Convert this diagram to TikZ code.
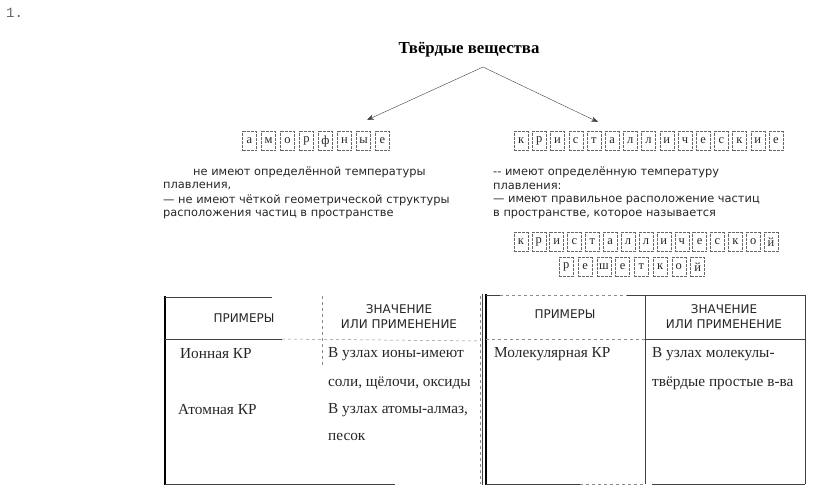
\documentclass[tikz,border=0pt]{standalone}
\usepackage{fontspec}
\setmainfont{Liberation Serif}
\setsansfont{DejaVu Sans}
\setmonofont{Liberation Mono}
\usetikzlibrary{arrows.meta,positioning}

\begin{document}
\begin{tikzpicture}[x=1pt, y=-1pt, >=Stealth, text=black!85,
cell/.style={draw=black!60, dash pattern=on 3pt off 1pt, minimum width=14pt, minimum height=19pt, inner sep=0pt, font=\rmfamily\fontsize{12.5}{12}\selectfont},
note/.style={anchor=west, inner sep=0pt, font=\sffamily\fontsize{11.4}{12}\selectfont},
head/.style={align=center, inner sep=0pt, font=\sffamily\fontsize{12}{15}\selectfont},
entry/.style={anchor=west, inner sep=0pt, font=\rmfamily\fontsize{15.3}{16}\selectfont},
rule/.style={draw=black!75, line width=0.6pt},
faint/.style={draw=black!45, line width=0.5pt, dashed},
edge/.style={draw=black, line width=2.2pt}]
\useasboundingbox (0,0) rectangle (814,490);

\node[anchor=west, inner sep=0pt, font=\ttfamily\fontsize{14}{14}\selectfont, text=black!60] (num) at (6,13) {1.};
\node[inner sep=0pt, font=\rmfamily\bfseries\fontsize{16.8}{16}\selectfont, text=black] (title) at (469,50) {Твёрдые вещества};

% arrows from the title
\coordinate (apex) at (483,67);
\coordinate (amend) at (367,120);
\coordinate (krend) at (598,122);
\draw[-{Stealth[length=7pt]}, black!75] (apex) -- (amend);
\draw[-{Stealth[length=7pt]}, black!75] (apex) -- (krend);

% letter rows
\foreach \l [count=\i] in {а,м,о,р,ф,н,ы,е}
  \node[cell] (am\i) at (230.5+\i*19, 141) {\l};
\foreach \l [count=\i] in {к,р,и,с,т,а,л,л,и,ч,е,с,к,и,е}
  \node[cell] (kr\i) at (502.9+\i*18.2, 141) {\l};
\foreach \l [count=\i] in {к,р,и,с,т,а,л,л,и,ч,е,с,к,о,й}
  \node[cell] (ks\i) at (503+\i*17.87, 242) {\l};
\foreach \l [count=\i] in {р,е,ш,е,т,к,о,й}
  \node[cell] (rs\i) at (547.6+\i*18.75, 267) {\l};

% notes
\node[note] (amA) at (193,172) {не имеют определённой температуры};
\node[note] (amB) at (163,186) {плавления,};
\node[note] (amC) at (163,200) {— не имеют чёткой геометрической структуры};
\node[note] (amD) at (163,214) {расположения частиц в пространстве};
\node[note] (krA) at (493,172) {-{}- имеют определённую температуру};
\node[note] (krB) at (493,186) {плавления:};
\node[note] (krC) at (493,200) {— имеют правильное расположение частиц};
\node[note] (krD) at (493,214) {в пространстве, которое называется};

% left table
\draw[edge] (165,296) -- (165,485);
\draw[rule] (165,297) -- (272,297);
\draw[rule] (165,339) -- (282,339);
\draw[faint] (282,339) -- (480,341);
\draw[faint] (322,296) -- (322,365);
\draw[faint] (480,296) -- (480,484);
\draw[rule] (165,484) -- (395,484);
\node[head] (lh1) at (244,318) {ПРИМЕРЫ};
\node[head] (lh2) at (399,317) {ЗНАЧЕНИЕ\\ИЛИ ПРИМЕНЕНИЕ};
\node[entry] (ion) at (180,354) {Ионная КР};
\node[entry] (ionA) at (328,354) {В узлах ионы-имеют};
\node[entry] (ionB) at (328,383) {соли, щёлочи, оксиды};
\node[entry] (atom) at (178,410) {Атомная КР};
\node[entry] (atomA) at (328,410) {В узлах атомы-алмаз,};
\node[entry] (atomB) at (328,437) {песок};

% right table
\draw[rule, line width=0.5pt] (482,294) -- (482,485);
\draw[edge] (486,294) -- (486,485);
\draw[rule] (486,295) -- (500,295);
\draw[rule] (627,295) -- (805,295);
\draw[faint] (500,295) -- (627,295);
\draw[faint] (486,339) -- (645,339);
\draw[rule] (645,339) -- (805,339);
\draw[rule] (645,295) -- (645,484);
\draw[rule] (805,295) -- (805,484);
\draw[rule] (486,484) -- (580,484);
\draw[faint] (580,484) -- (645,484);
\draw[rule] (652,484) -- (805,484);
\node[head] (rh1) at (565,314) {ПРИМЕРЫ};
\node[head] (rh2) at (724,317) {ЗНАЧЕНИЕ\\ИЛИ ПРИМЕНЕНИЕ};
\node[entry] (mol) at (494,354) {Молекулярная КР};
\node[entry] (molA) at (652,354) {В узлах молекулы-};
\node[entry] (molB) at (652,383) {твёрдые простые в-ва};
\end{tikzpicture}
\end{document}
